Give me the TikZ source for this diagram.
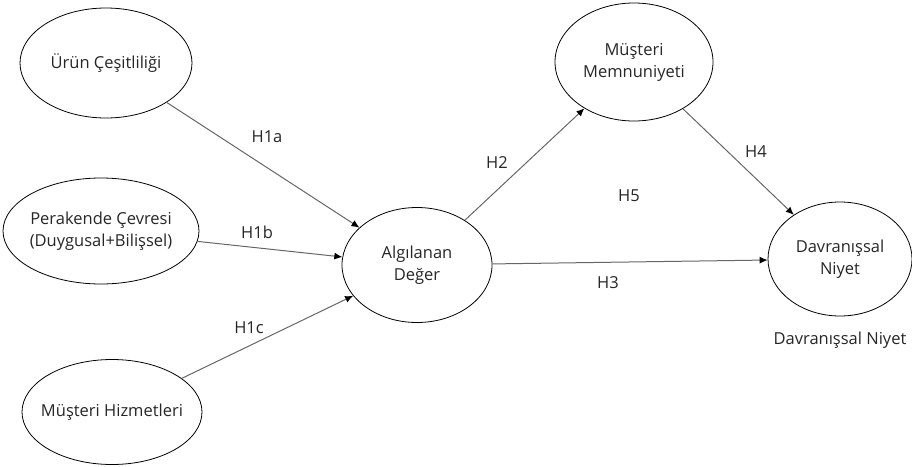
\documentclass[tikz,border=0pt]{standalone}
\usepackage{fontspec}
\setmainfont{Open Sans}
\usetikzlibrary{shapes.geometric,arrows.meta}
\begin{document}
\begin{tikzpicture}[x=1pt,y=-1pt,
  ell/.style={ellipse,draw=black,line width=0.8pt,inner sep=0pt},
  txt/.style={font=\fontsize{16.5}{22}\selectfont,text=black!85,align=center},
  hyp/.style={font=\fontsize{16.5}{22}\selectfont,text=black!85},
  conn/.style={draw=black!60,line width=1pt,-{Latex[length=8pt,width=7pt,color=black]}}]
\useasboundingbox (0,0) rectangle (912,466);
\node[ell,minimum width=172pt,minimum height=110pt,label={[txt]center:Ürün Çeşitliliği}] (u) at (106,63) {};
\node[ell,minimum width=196pt,minimum height=106pt,label={[txt]center:Perakende Çevresi\\(Duygusal+Bilişsel)}] (p) at (101,231) {};
\node[ell,minimum width=180pt,minimum height=105pt,label={[txt]center:Müşteri Hizmetleri}] (h) at (112,412) {};
\node[ell,minimum width=150pt,minimum height=115pt,label={[txt]center:Algılanan\\Değer}] (a) at (417,265) {};
\node[ell,minimum width=158pt,minimum height=118pt,label={[txt]center:Müşteri\\Memnuniyeti}] (m) at (634,62) {};
\node[ell,minimum width=144pt,minimum height=114pt,label={[txt]center:Davranışsal\\Niyet}] (d) at (840,259) {};
\node[txt] (dl) at (840,340) {Davranışsal Niyet};
\draw[conn] (u) -- (a);
\draw[conn] (p) -- (a);
\draw[conn] (h) -- (a);
\draw[conn] (a) -- (m);
\draw[conn] (m) -- (d);
\draw[conn] (a) -- (d);
\node[hyp] (l1a) at (267,137) {H1a};
\node[hyp] (l1b) at (257,232) {H1b};
\node[hyp] (l1c) at (249,328) {H1c};
\node[hyp] (l2) at (497,163) {H2};
\node[hyp] (l5) at (629,196) {H5};
\node[hyp] (l4) at (756,152) {H4};
\node[hyp] (l3) at (608,283) {H3};
\end{tikzpicture}
\end{document}
